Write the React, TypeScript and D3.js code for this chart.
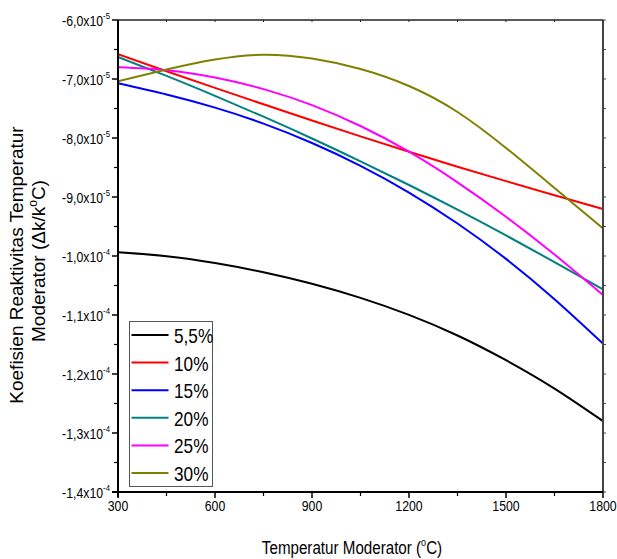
import React from "react";
import * as d3 from "d3";

// Temperature (°C)
const temps = [300, 450, 600, 750, 900, 1050, 1200, 1350, 1500, 1650, 1800];

// Coefficient values in units of 1e-5 (Δk/k°C)
const s55 = [-9.937, -10.003, -10.119, -10.275, -10.471, -10.71, -10.998, -11.347, -11.766, -12.247, -12.798];
const s10 = [-6.581, -6.868, -7.151, -7.429, -7.703, -7.973, -8.234, -8.486, -8.731, -8.971, -9.203];
const s15 = [-7.073, -7.263, -7.485, -7.756, -8.085, -8.471, -8.924, -9.449, -10.049, -10.732, -11.485];
const s20 = [-6.627, -6.947, -7.285, -7.639, -8.008, -8.395, -8.797, -9.215, -9.651, -10.103, -10.564];
const s25 = [-6.802, -6.851, -6.975, -7.171, -7.442, -7.797, -8.232, -8.751, -9.334, -9.975, -10.661];
const s30 = [-7.039, -6.839, -6.669, -6.588, -6.653, -6.831, -7.119, -7.559, -8.169, -8.847, -9.531];

const seriesNames = ["5,5%", "10%", "15%", "20%", "25%", "30%"];
const seriesColors = ["#000000", "#FF0000", "#0000FF", "#008080", "#FF00FF", "#808000"];
const seriesValues = [s55, s10, s15, s20, s25, s30];

const xTickValues = [300, 600, 900, 1200, 1500, 1800];
const xMinorValues = [450, 750, 1050, 1350, 1650];
const yTickValues = [-6, -7, -8, -9, -10, -11, -12, -13, -14];
const yTickMantissa = ["-6,0", "-7,0", "-8,0", "-9,0", "-1,0", "-1,1", "-1,2", "-1,3", "-1,4"];
const yTickExp = ["-5", "-5", "-5", "-5", "-4", "-4", "-4", "-4", "-4"];
const yMinorValues = [-6.5, -7.5, -8.5, -9.5, -10.5, -11.5, -12.5, -13.5];

const FONT = "'Liberation Sans', Arial, sans-serif";
const NX = 0.82;

function NText(props: { x: number; y: number; anchor?: string; size: number; children: React.ReactNode }) {
  return (
    <text
      transform={`translate(${props.x},${props.y}) scale(${NX},1)`}
      x={0}
      y={0}
      textAnchor={props.anchor || "start"}
      fontFamily={FONT}
      fontSize={props.size}
      fill="#000"
    >
      {props.children}
    </text>
  );
}

export default function App() {
  const W = 617, H = 559;
  const L = 118, R = 603, T = 20, B = 492;
  const x = d3.scaleLinear().domain([300, 1800]).range([L, R]);
  const y = d3.scaleLinear().domain([-14, -6]).range([B, T]);
  const line = d3
    .line<[number, number]>()
    .x((d) => x(d[0]))
    .y((d) => y(d[1]))
    .curve(d3.curveNatural);

  const legX = 129.5, legY = 321.5, legW = 83, legH = 165;
  const legRow0 = 335, legStep = 27.6;

  return (
    <svg width={W} height={H} style={{ position: "absolute", left: 0, top: 0, background: "#fff" }}>
      <rect x={0} y={0} width={W} height={H} fill="#fff" />
      <defs>
        <clipPath id="plotclip">
          <rect x={L} y={T} width={R - L} height={B - T} />
        </clipPath>
      </defs>

      {/* curves */}
      <g clipPath="url(#plotclip)">
        {seriesValues.map((vals, i) => (
          <path
            key={i}
            d={line(temps.map((t, j) => [t, vals[j]] as [number, number])) || ""}
            fill="none"
            stroke={seriesColors[i]}
            strokeWidth={2}
          />
        ))}
      </g>

      {/* frame top/right */}
      <line x1={L} y1={T} x2={R} y2={T} stroke="#222" strokeWidth={1.5} />
      <line x1={R} y1={T} x2={R} y2={B} stroke="#444" strokeWidth={2} />
      {[...xTickValues, ...xMinorValues].map((v) => (
        <line key={"tt" + v} x1={x(v)} y1={T} x2={x(v)} y2={T + 2} stroke="#222" strokeWidth={1} />
      ))}
      {[...yTickValues, ...yMinorValues].map((v) => (
        <line key={"rt" + v} x1={R} y1={y(v)} x2={R + 3} y2={y(v)} stroke="#444" strokeWidth={1} />
      ))}

      {/* left axis */}
      <line x1={L} y1={T} x2={L} y2={B + 5} stroke="#000" strokeWidth={2} />
      {yTickValues.map((v, i) => (
        <g key={"yt" + v}>
          <line x1={L - 6} y1={y(v)} x2={L} y2={y(v)} stroke="#000" strokeWidth={1.5} />
          <NText x={110} y={y(v) + 6} anchor="end" size={15}>
            {yTickMantissa[i]}x10
            <tspan fontSize={9.5} dy={-7}>{yTickExp[i]}</tspan>
          </NText>
        </g>
      ))}
      {yMinorValues.map((v) => (
        <line key={"ym" + v} x1={L - 4} y1={y(v)} x2={L} y2={y(v)} stroke="#000" strokeWidth={1.2} />
      ))}

      {/* bottom axis */}
      <line x1={L - 6} y1={B} x2={R} y2={B} stroke="#000" strokeWidth={2} />
      {xTickValues.map((v) => (
        <g key={"xt" + v}>
          <line x1={x(v)} y1={B} x2={x(v)} y2={B + 6} stroke="#000" strokeWidth={1.5} />
          <NText x={x(v)} y={511} anchor="middle" size={15}>
            {v}
          </NText>
        </g>
      ))}
      {xMinorValues.map((v) => (
        <line key={"xm" + v} x1={x(v)} y1={B} x2={x(v)} y2={B + 4} stroke="#000" strokeWidth={1.2} />
      ))}

      {/* axis titles */}
      <NText x={352} y={554} anchor="middle" size={18.5}>
        Temperatur Moderator (
        <tspan fontSize={11} dy={-8}>o</tspan>
        <tspan dy={8}>C)</tspan>
      </NText>
      <g transform="translate(23,265) rotate(-90)">
        <text x={0} y={0} textAnchor="middle" fontFamily={FONT} fontSize={19} fill="#000">
          Koefisien Reaktivitas Temperatur
        </text>
      </g>
      <g transform="translate(45,261) rotate(-90)">
        <text x={0} y={0} textAnchor="middle" fontFamily={FONT} fontSize={19} fill="#000">
          Moderator (Δk/k
          <tspan fontSize={12} dy={-8}>o</tspan>
          <tspan dy={8}>C)</tspan>
        </text>
      </g>

      {/* legend */}
      <rect x={legX} y={legY} width={legW} height={legH} fill="#fff" stroke="#555" strokeWidth={1} />
      {seriesNames.map((name, i) => {
        const ly = legRow0 + i * legStep;
        return (
          <g key={"lg" + i}>
            <line x1={131.5} y1={ly} x2={168.5} y2={ly} stroke={seriesColors[i]} strokeWidth={2} />
            <NText x={174} y={ly + 8} size={21}>
              {name}
            </NText>
          </g>
        );
      })}
    </svg>
  );
}
